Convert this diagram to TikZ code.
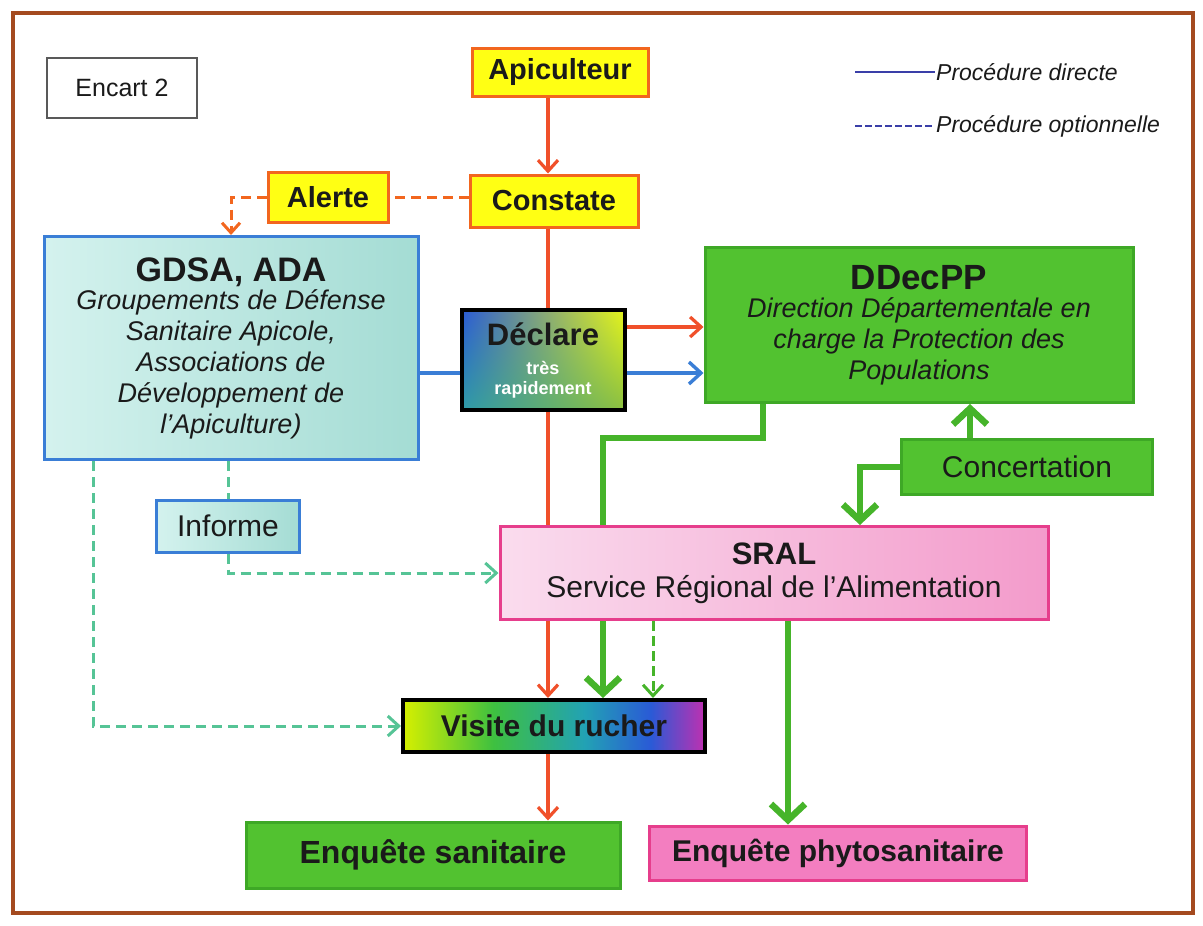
\documentclass[tikz,border=0pt]{standalone}
\usepackage{fontspec}
\setmainfont{Liberation Sans}
\usetikzlibrary{arrows.meta,calc,shadings}
\definecolor{frame}{HTML}{A44A1F}
\definecolor{txt}{HTML}{1A1A1A}
\definecolor{yel}{HTML}{FFFF14}
\definecolor{ora}{HTML}{F2661E}
\definecolor{redc}{HTML}{F0502A}
\definecolor{grn}{HTML}{52C230}
\definecolor{grnd}{HTML}{3EA826}
\definecolor{grnl}{HTML}{46B42A}
\definecolor{blu}{HTML}{3A7ED6}
\definecolor{legb}{HTML}{3A3FA8}
\definecolor{cyl}{HTML}{D4F2EE}
\definecolor{cyr}{HTML}{A4DCD4}
\definecolor{pinkd}{HTML}{E63E8C}
\definecolor{pinkl}{HTML}{FADCEE}
\definecolor{pinkr}{HTML}{F39BCB}
\definecolor{pinkf}{HTML}{F37EC0}
\definecolor{teal}{HTML}{56C496}
\definecolor{vy}{HTML}{D6F000}
\definecolor{vg}{HTML}{3EC040}
\definecolor{vt}{HTML}{22A2B4}
\definecolor{vb}{HTML}{2A5AD6}
\definecolor{vm}{HTML}{C030B0}
\definecolor{dul}{HTML}{2A5AD6}
\definecolor{dll}{HTML}{2E9AA8}
\definecolor{dur}{HTML}{E6F51A}
\definecolor{dlr}{HTML}{8CC040}
\pgfdeclarehorizontalshading{rainbowx}{100bp}{color(0bp)=(vy); color(25bp)=(vy); color(40bp)=(vg); color(55bp)=(vt); color(66bp)=(vb); color(75bp)=(vm); color(100bp)=(vm)}
\tikzset{
  box/.style={rectangle, inner sep=0pt, align=center, text=txt},
  ybox/.style={box, fill=yel, draw=ora, line width=3pt, font=\fontsize{29}{33}\selectfont\bfseries},
  gbox/.style={box, fill=grn, draw=grnd, line width=3pt},
  cbox/.style={box, left color=cyl, right color=cyr, draw=blu, line width=3pt},
  redline/.style={draw=redc, line width=3.2pt},
  redar/.style={redline, -{Straight Barb[length=11pt,width=20pt]}},
  orad/.style={draw=ora, line width=3pt, dash pattern=on 10pt off 6pt},
  oraar/.style={orad, -{Straight Barb[length=10pt,width=18pt]}},
  bluline/.style={draw=blu, line width=3.4pt},
  bluar/.style={bluline, -{Straight Barb[length=12pt,width=22pt]}},
  gline/.style={draw=grnl, line width=6.5pt},
  gar/.style={gline, -{Straight Barb[length=16pt,width=34pt]}},
  tdash/.style={draw=teal, line width=3pt, dash pattern=on 10pt off 6pt},
  tar/.style={tdash, -{Straight Barb[length=11pt,width=20pt]}},
  gdash/.style={draw=grnl, line width=3pt, dash pattern=on 10pt off 5pt},
  gdar/.style={gdash, -{Straight Barb[length=11pt,width=20pt]}},
}
\begin{document}
\begin{tikzpicture}[x=1pt,y=-1pt]
\useasboundingbox (0,0) rectangle (1203,926);
\fill[white] (0,0) rectangle (1203,926);
\draw[frame, line width=4pt] (13,13) rectangle (1193,913);

% legend
\coordinate (la1) at (855,72);
\coordinate (la2) at (935,72);
\coordinate (lb1) at (855,126);
\coordinate (lb2) at (935,126);
\draw[draw=legb, line width=2.4pt] (la1) -- (la2);
\draw[draw=legb, line width=2.4pt, dash pattern=on 7pt off 3pt] (lb1) -- (lb2);
\node[anchor=west, text=txt, inner sep=1pt, font=\fontsize{23}{26}\selectfont\itshape] (lt1) at (la2) {Procédure directe};
\node[anchor=west, text=txt, inner sep=1pt, font=\fontsize{23}{26}\selectfont\itshape] (lt2) at (lb2) {Procédure optionnelle};

% helper coordinates
\coordinate (rx) at (548,0);
\coordinate (ry) at (0,327);
\coordinate (by) at (0,373);
\coordinate (gA) at (763,438);
\coordinate (gB) at (603,438);
\coordinate (gC) at (860,0);
\coordinate (gD) at (970,0);
\coordinate (gE) at (653,0);
\coordinate (gF) at (788,0);
\coordinate (dx) at (93,0);

% nodes
\node[box, fill=white, draw=black!65, line width=1.5pt, minimum width=150pt, minimum height=60pt,
      font=\fontsize{25}{29}\selectfont] (enc) at (122,88) {Encart 2};
\node[ybox, minimum width=176pt, minimum height=48pt] (api) at (560,72) {Apiculteur};
\node[ybox, minimum width=168pt, minimum height=52pt] (con) at (554,201) {Constate};
\node[ybox, minimum width=120pt, minimum height=50pt] (ale) at (328,197) {Alerte};

\node[cbox, minimum width=374pt, minimum height=223pt, font=\fontsize{27}{31}\selectfont\itshape] (gdsa) at (231,348) {%
  {\fontsize{34}{36}\selectfont\bfseries\upshape GDSA, ADA}\\[-3pt]
  Groupements de Défense\\ Sanitaire Apicole,\\ Associations de\\ Développement de\\ l’Apiculture)};

\node[gbox, minimum width=428pt, minimum height=155pt, font=\fontsize{27}{31}\selectfont\itshape] (ddp) at (919,325) {%
  {\fontsize{35}{38}\selectfont\bfseries\upshape DDecPP}\\[-3pt]
  Direction Départementale en\\ charge la Protection des\\ Populations};

\node[gbox, minimum width=251pt, minimum height=55pt, font=\fontsize{30}{34}\selectfont] (concert) at (1027,467) {Concertation};

\node[cbox, minimum width=143pt, minimum height=52pt, font=\fontsize{30}{34}\selectfont] (inf) at (228,526) {Informe};

\node[box, left color=pinkl, right color=pinkr, draw=pinkd, line width=3pt, minimum width=548pt, minimum height=93pt, font=\fontsize{30}{34}\selectfont] (sral) at (774,573) {%
  {\fontsize{31}{34}\selectfont\bfseries SRAL}\\[-1pt]
  Service Régional de l’Alimentation};

\node[box, fill=grn, draw=grnd, line width=3pt, minimum width=374pt, minimum height=66pt, font=\fontsize{32}{36}\selectfont\bfseries] (es) at (433,855) {Enquête sanitaire};
\node[box, fill=pinkf, draw=pinkd, line width=3pt, minimum width=377pt, minimum height=54pt, font=\fontsize{30}{34}\selectfont\bfseries] (ep) at (838,853) {Enquête phytosanitaire};

% connectors behind Déclare
\draw[redar] (api.south -| rx) -- (con.north -| rx);
\draw[redline] (con.south -| rx) -- (sral.north -| rx);
\draw[orad] (con.west |- ale.east) -- (ale.east);
\draw[oraar] (ale.west) -| (gdsa.north);

\node[box, upper left=dul, lower left=dll, upper right=dur, lower right=dlr, draw=black, line width=4pt,
      minimum width=163pt, minimum height=100pt, text=white, font=\fontsize{18}{20}\selectfont\bfseries] (dec) at (543,360) {%
  {\fontsize{31}{36}\selectfont\color{txt}Déclare}\\[9pt]
  très\\ rapidement};

\node[box, shading=rainbowx, draw=black, line width=4pt, minimum width=302pt, minimum height=52pt,
      font=\fontsize{30}{34}\selectfont\bfseries] (vis) at (554,726) {Visite du rucher};

\draw[bluline] (gdsa.east |- by) -- (dec.west |- by);
\draw[bluar] (dec.east |- by) -- (ddp.west |- by);
\draw[redar] (dec.east |- ry) -- (ddp.west |- ry);

\draw[gline] (ddp.south -| gA) -- (gA) -- (gB) -- (sral.north -| gB);
\draw[gar] (concert.north -| gD) -- (ddp.south -| gD);
\draw[gar] (concert.west) -| (sral.north -| gC);

\draw[tdash] (inf.north |- gdsa.south) -- (inf.north);
\draw[tar] (inf.south) |- (sral.west);
\draw[tar] (gdsa.south -| dx) |- (vis.west);

\draw[redar] (sral.south -| rx) -- (vis.north -| rx);
\draw[gar] (sral.south -| gB) -- (vis.north -| gB);
\draw[gdar] (sral.south -| gE) -- (vis.north -| gE);
\draw[gar] (sral.south -| gF) -- (ep.north -| gF);
\draw[redar] (vis.south -| rx) -- (es.north -| rx);
\end{tikzpicture}
\end{document}
